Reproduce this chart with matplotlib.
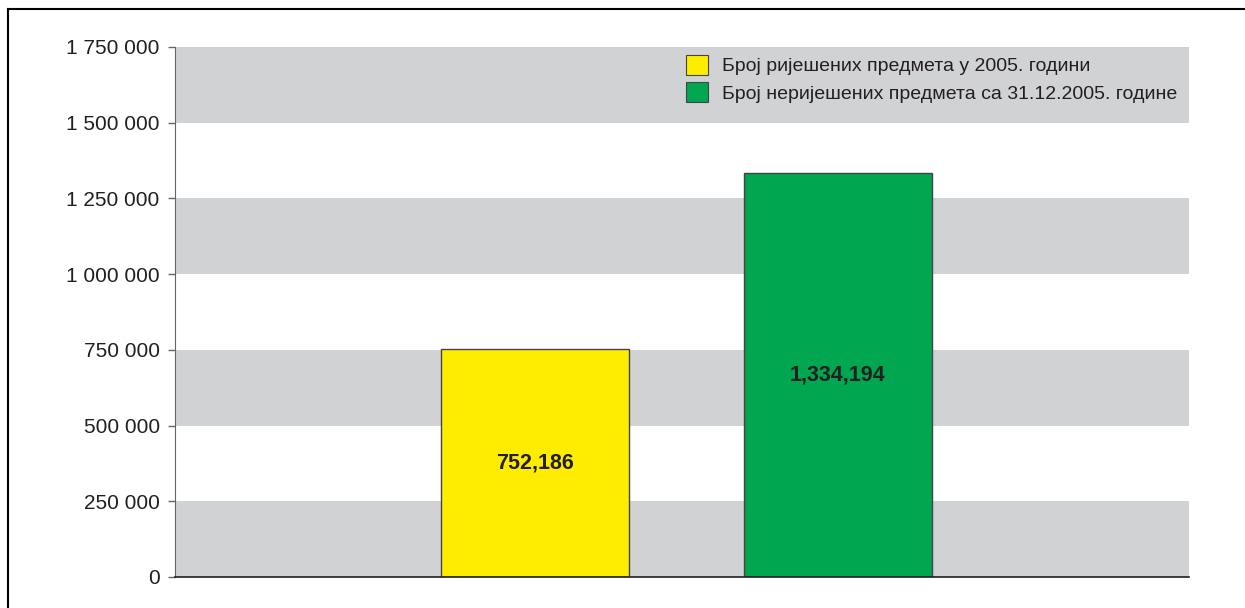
import matplotlib.pyplot as plt
from matplotlib.patches import Patch
from matplotlib.lines import Line2D

plt.rcParams["font.family"] = ["Liberation Sans Narrow", "Liberation Sans", "DejaVu Sans"]

# data
categories = ["Број ријешених предмета у 2005. години",
              "Број неријешених предмета са 31.12.2005. године"]
values = [752186, 1334194]
value_labels = ["752,186", "1,334,194"]
colors = ["#FFED00", "#00A650"]
yticks = [0, 250000, 500000, 750000, 1000000, 1250000, 1500000, 1750000]
ytick_labels = ["0", "250 000", "500 000", "750 000", "1 000 000",
                "1 250 000", "1 500 000", "1 750 000"]

fig = plt.figure(figsize=(12.45, 6.08), dpi=100)
ax = fig.add_axes([175 / 1245, 1 - 577 / 608, (1189 - 175) / 1245, (577 - 47) / 608])

# alternating bands
for i in range(0, len(yticks) - 1, 2):
    ax.axhspan(yticks[i], yticks[i + 1], color="#D1D2D4", lw=0, zorder=0)

x = [0, 1]
ax.bar(x, values, width=0.62, color=colors, edgecolor="#444444", linewidth=1, zorder=2)

for xi, v, lab in zip(x, values, value_labels):
    ax.text(xi, v / 2, lab, ha="center", va="center", fontsize=15.5,
            fontweight="bold", color="#231F20", zorder=3)

ax.set_xlim(-1.19, 2.16)
ax.set_ylim(0, 1750000)
ax.set_yticks(yticks)
ax.set_yticklabels(ytick_labels, fontsize=15, color="#231F20")
ax.set_xticks([])
ax.tick_params(axis="y", length=5, width=1, color="#666666", pad=6)

for s in ["top", "right"]:
    ax.spines[s].set_visible(False)
ax.spines["left"].set_color("#666666")
ax.spines["bottom"].set_color("#231F20")
ax.spines["bottom"].set_linewidth(1.2)

handles = [Patch(facecolor=c, edgecolor="#444444", linewidth=0.8) for c in colors]
ax.legend(handles, categories, loc="upper left", bbox_to_anchor=(0.487, 1.018),
          frameon=False, fontsize=14, handlelength=1.1, handleheight=1.2,
          handletextpad=0.75, labelspacing=0.35, labelcolor="#231F20")

# outer frame (top and left)
fig.add_artist(Line2D([8 / 1245, 8 / 1245], [0, 1 - 9 / 608], color="black", lw=1.5))
fig.add_artist(Line2D([8 / 1245, 1], [1 - 9 / 608, 1 - 9 / 608], color="black", lw=1.5))

fig.savefig("out.png", dpi=100)
